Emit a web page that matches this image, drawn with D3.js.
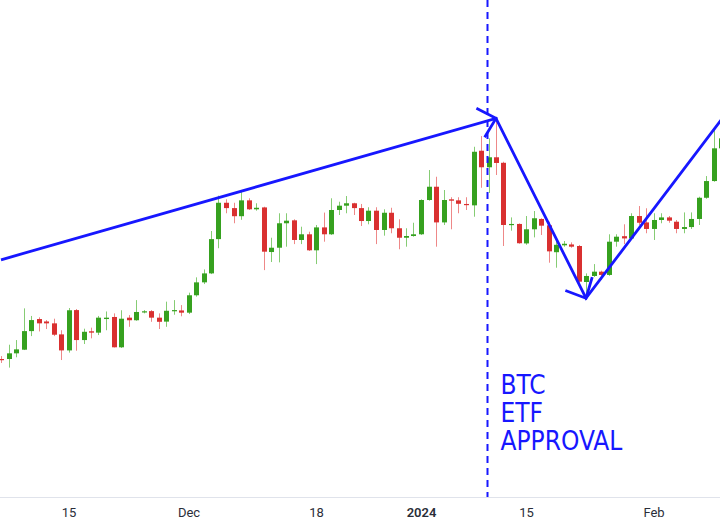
<!DOCTYPE html>
<html>
<head>
<meta charset="utf-8">
<script src="https://cdn.jsdelivr.net/npm/d3@7"></script>
<style>
  html, body { margin: 0; padding: 0; background: #ffffff; }
  svg { display: block; }
</style>
</head>
<body>
<script>
// ---------------- DATA ----------------
const startDate = "2023-11-06"; // daily candles, one per calendar day

const openPrices = [
  35030, 35030, 35360, 35570, 36650, 37350, 37210, 37100, 36460, 35530, 37870, 36130, 36640, 36560, 37350, 37470, 35710, 37430, 37280, 37760, 37810, 37430, 37200, 37830, 37850,
  37720, 38730, 39480, 40000, 41990, 44100, 43790, 43320, 44240, 43720, 43830, 41240, 41490, 42910, 43080, 41940, 42270, 41340, 42670, 42270, 43680, 43930, 44070, 43790, 43040, 43640, 42520, 43520, 42620, 42070, 42170,
  42270, 44260, 45030, 42960, 44300, 44240, 44030, 43950, 47120, 46160, 46740, 46420, 42810, 42870, 41740, 42560, 43160, 42790, 41230, 41630, 41680, 41590, 39500, 39850, 40100, 39910, 41840, 42160, 42030, 43330, 42960,
  42580, 43100, 43250, 43000, 42580, 42690, 43160, 44390, 45360, 47260
];
const highPrices = [
  35200, 35860, 36130, 37970, 37530, 37450, 37290, 37370, 36700, 37990, 37930, 36790, 36850, 37530, 37790, 37680, 37860, 37580, 38450, 37870, 37870, 37680, 38360, 38450, 38160,
  38880, 39770, 40230, 42460, 44510, 44300, 44100, 44740, 44360, 44070, 43870, 42070, 43490, 43490, 43140, 42710, 42420, 42810, 43530, 44360, 44160, 44490, 44100, 44030, 43840, 43840, 43720, 43810, 43140, 42620, 42940,
  44300, 46000, 45610, 44840, 44420, 44420, 44420, 47350, 47970, 47840, 49000, 46480, 43250, 42900, 43330, 43620, 43200, 43000, 41880, 41880, 41800, 41650, 40000, 40540, 40160, 42270, 42270, 42850, 43490, 43910, 43780,
  43490, 43490, 43330, 43100, 43540, 43540, 44450, 45650, 48320, 48100
];
const lowPrices = [
  34800, 34530, 35130, 35550, 36360, 36630, 36770, 36360, 34970, 35400, 35510, 35900, 36230, 36420, 36700, 35700, 35670, 36900, 37250, 37680, 37190, 36770, 36900, 37600, 37510,
  37640, 38650, 39380, 39960, 41460, 43490, 42910, 43110, 43680, 43640, 40190, 40660, 40640, 41550, 41700, 41700, 41300, 40540, 41840, 42230, 43390, 43490, 43390, 42750, 42850, 41700, 42190, 42330, 41400, 41550, 42130,
  42230, 44220, 41550, 42810, 42560, 43490, 43680, 43290, 44970, 44670, 45710, 41590, 42480, 41720, 41660, 42090, 42230, 40620, 40330, 41550, 41490, 39420, 38600, 39790, 39620, 39860, 41550, 41700, 41980, 42810, 42330,
  41940, 42910, 42940, 42330, 42330, 42580, 42810, 44330, 45320, 47000
];
const closePrices = [
  34970, 35360, 35590, 36650, 37290, 37100, 37100, 36440, 35530, 37860, 36130, 36610, 36560, 37430, 37430, 35710, 37370, 37280, 37760, 37800, 37430, 37190, 37830, 37870, 37720,
  38730, 39480, 40000, 41990, 44100, 43790, 43320, 44240, 43720, 43810, 41260, 41490, 42910, 43060, 41940, 42270, 41340, 42670, 42270, 43680, 43930, 44070, 43790, 43040, 43640, 42520, 43520, 42620, 42070, 42170, 42270,
  44260, 45030, 42960, 44260, 44220, 44040, 43970, 47060, 46160, 46740, 46410, 42810, 42870, 41750, 42560, 43200, 42770, 41280, 41660, 41720, 41550, 39520, 39850, 40100, 39910, 41840, 42130, 42030, 43330, 42940, 42580,
  43100, 43250, 43060, 42580, 42690, 43160, 44390, 45360, 47260, 47840
];

const tickDates  = ["2023-11-15", "2023-12-01", "2023-12-18", "2024-01-01", "2024-01-15", "2024-02-01"];
const tickLabels = ["15", "Dec", "18", "2024", "15", "Feb"];

const trendDates  = ["2023-11-06", "2024-01-11", "2024-01-23", "2024-02-10"];
const trendPrices = [40790, 49000, 38560, 48900];

const eventDate  = "2024-01-10";
const eventLines = ["BTC", "ETF", "APPROVAL"];

// ---------------- LAYOUT ----------------
const W = 720, H = 530, plotBottom = 497;
const parse = d3.utcParse("%Y-%m-%d");
const t0 = parse(startDate);
const candles = openPrices.map((o, i) => ({
  date: d3.utcDay.offset(t0, i),
  o, h: highPrices[i], l: lowPrices[i], c: closePrices[i]
}));

const x = d3.scaleUtc()
  .domain([t0, candles[candles.length - 1].date])
  .range([1, 721]);
const y = d3.scaleLinear().domain([27020, 55870]).range([plotBottom, 0]);

const svg = d3.select("body").append("svg").attr("width", W).attr("height", H);

svg.append("defs").append("clipPath").attr("id", "plot")
  .append("rect").attr("x", 0).attr("y", 0).attr("width", W).attr("height", plotBottom);

const plot = svg.append("g").attr("clip-path", "url(#plot)");

const UP = "#36a11f", DOWN = "#d93030";
const UPW = "#86cc74", DOWNW = "#ee8888";

// wicks
plot.append("g").selectAll("line").data(candles).join("line")
  .attr("x1", d => Math.round(x(d.date)) + 0.5)
  .attr("x2", d => Math.round(x(d.date)) + 0.5)
  .attr("y1", d => y(d.h))
  .attr("y2", d => y(d.l))
  .attr("stroke", d => d.c >= d.o ? UPW : DOWNW)
  .attr("stroke-width", 1);

// bodies
const bw = 5;
plot.append("g").selectAll("rect").data(candles).join("rect")
  .attr("x", d => Math.round(x(d.date)) + 0.5 - bw / 2)
  .attr("width", bw)
  .attr("y", d => y(Math.max(d.o, d.c)))
  .attr("height", d => Math.max(1.2, Math.abs(y(d.o) - y(d.c))))
  .attr("fill", d => d.c >= d.o ? UP : DOWN);

// event dashed line
const BLUE = "#1717ff";
const ex = x(parse(eventDate)) - 1;
plot.append("line")
  .attr("x1", ex).attr("x2", ex)
  .attr("y1", 0).attr("y2", plotBottom)
  .attr("stroke", BLUE).attr("stroke-width", 2)
  .attr("stroke-dasharray", "7,5");

// trend lines
const pts = trendDates.map((d, i) => [x(parse(d)), y(trendPrices[i])]);
plot.append("path")
  .attr("d", d3.line()(pts))
  .attr("fill", "none")
  .attr("stroke", BLUE)
  .attr("stroke-width", 2.8)
  .attr("stroke-linejoin", "miter");

// arrowheads at first two turning points
function arrowHead(from, tip, len, ang) {
  const a = Math.atan2(from[1] - tip[1], from[0] - tip[0]);
  const r = ang * Math.PI / 180;
  const b1 = [tip[0] + len * Math.cos(a + r), tip[1] + len * Math.sin(a + r)];
  const b2 = [tip[0] + len * Math.cos(a - r), tip[1] + len * Math.sin(a - r)];
  return d3.line()([b1, tip, b2]);
}
[[pts[0], pts[1]], [pts[1], pts[2]]].forEach(([f, t]) => {
  plot.append("path")
    .attr("d", arrowHead(f, t, 22, 43))
    .attr("fill", "none")
    .attr("stroke", BLUE)
    .attr("stroke-width", 2.8)
    .attr("stroke-linejoin", "miter");
});

// event text
const txt = svg.append("g")
  .attr("font-family", "'DejaVu Sans Condensed', 'DejaVu Sans', 'Noto Sans', sans-serif")
  .attr("font-stretch", "condensed")
  .attr("font-size", 26)
  .attr("fill", BLUE);
eventLines.forEach((s, i) => {
  txt.append("text")
    .attr("x", ex + 13)
    .attr("y", 394 + i * 28)
    .text(s);
});

// x axis
const axis = d3.axisBottom(x)
  .tickValues(tickDates.map(parse))
  .tickFormat((d, i) => tickLabels[i])
  .tickSize(0)
  .tickPadding(11);
const gx = svg.append("g").attr("transform", `translate(0,${plotBottom})`).call(axis);
gx.select(".domain").remove();
gx.append("line").attr("x1", 0).attr("x2", W).attr("y1", 0.5).attr("y2", 0.5)
  .attr("stroke", "#e0e3eb").attr("stroke-width", 1);
gx.selectAll("text")
  .attr("font-family", "Roboto, 'Noto Sans', sans-serif")
  .attr("font-size", 13)
  .attr("fill", "#2a2e39")
  .attr("font-weight", (d, i) => tickLabels[i] === "2024" ? 600 : 400);
</script>
</body>
</html>
